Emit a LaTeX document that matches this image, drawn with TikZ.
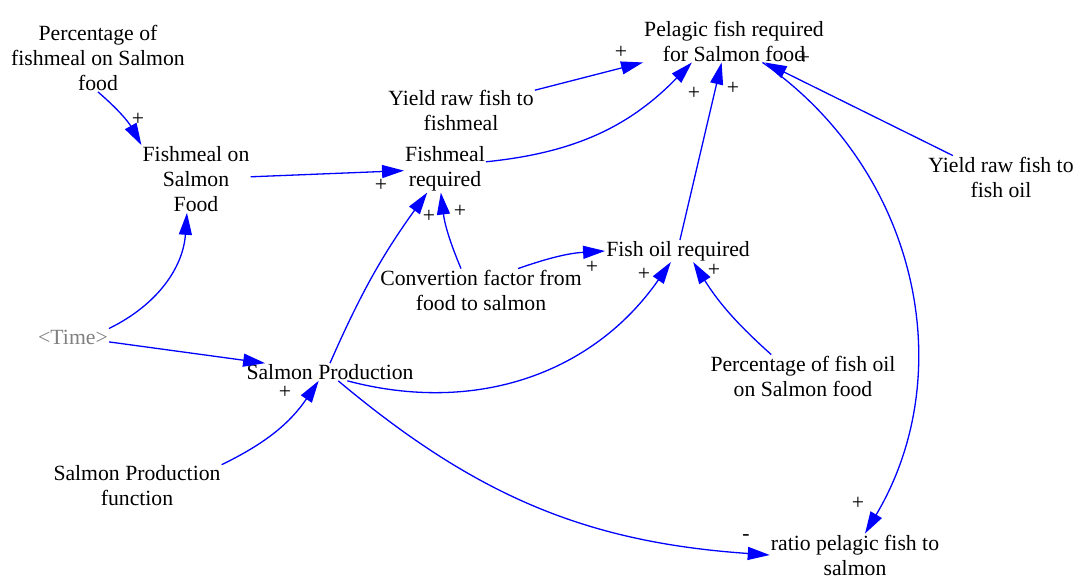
\documentclass[tikz,border=0pt]{standalone}
\usepackage{fontspec}
\setmainfont{Liberation Serif}
\usetikzlibrary{arrows.meta}

\tikzset{
  var/.style={align=center, inner sep=1pt, font=\fontsize{21.7}{25}\selectfont},
  link/.style={draw=blue, line width=1.3pt, -{Triangle[length=22pt,width=13pt]}},
  sign/.style={inner sep=0pt, font=\fontsize{21.7}{25}\selectfont},
}

\begin{document}
\begin{tikzpicture}[x=1pt,y=1pt]
  \useasboundingbox (0,0) rectangle (1078,-577);
  % variables
  \node[var] (pfm) at (98,-58) {Percentage of\\fishmeal on Salmon\\food};
  \node[var] (fmsf) at (196,-179) {Fishmeal on\\Salmon\\Food};
  \node[var] (yfm) at (461,-110) {Yield raw fish to\\fishmeal};
  \node[var] (fmr) at (445,-169) {Fishmeal\\required};
  \node[var] (pfr) at (734,-41) {Pelagic fish required\\for Salmon food};
  \node[var] (yfo) at (1001,-177) {Yield raw fish to\\fish oil};
  \node[var] (for) at (678,-251) {Fish oil required};
  \node[var] (cff) at (481,-290) {Convertion factor from\\food to salmon};
  \node[var, text=gray] (time) at (73,-337) {<Time>};
  \node[var] (sp) at (330,-372) {Salmon Production};
  \node[var] (pfo) at (803,-376) {Percentage of fish oil\\on Salmon food};
  \node[var] (spf) at (137,-486) {Salmon Production\\function};
  \node[var] (ratio) at (855,-555) {ratio pelagic fish to\\salmon};
  % links
  \draw[link] (pfm.south) to[bend left=10] (fmsf.north west);
  \draw[link] (fmsf) -- (fmr);
  \draw[link] (yfm.15) -- (pfr.south west);
  \draw[link] (fmr.10) to[bend right=20] (pfr.-153);
  \draw[link] (for.80) -- (pfr.-120);
  \draw[link] (yfo.156) -- (pfr.-35);
  \draw[link] (pfr.-37) to[bend left=43] (ratio.65);
  \draw[link] (cff.133) to[bend left=8] (fmr.-100);
  \draw[link] (sp.north) to[bend left=6] (fmr.-127);
  \draw[link] (cff.30) to[bend left=8] (for.west);
  \draw[link] (sp.-27) to[bend right=35] (for.-123);
  \draw[link] (pfo.146) to[bend left=8] (for.-36);
  \draw[link] (time.north east) to[bend right=30] (fmsf.-105);
  \draw[link] (time) -- (sp);
  \draw[link] (spf.north east) to[bend right=15] (sp.-142);
  \draw[link] (sp.-47) to[bend right=18] (ratio.west);
  % signs
  \node[sign] (s1) at (138,-119) {+};
  \node[sign] (s2) at (381,-185) {+};
  \node[sign] (s3) at (621,-52) {+};
  \node[sign] (s4) at (694,-93) {+};
  \node[sign] (s5) at (733,-88) {+};
  \node[sign] (s6) at (804,-58) {+};
  \node[sign] (s7) at (858,-503) {+};
  \node[sign] (s8) at (429,-216) {+};
  \node[sign] (s9) at (460,-211) {+};
  \node[sign] (s10) at (592,-267) {+};
  \node[sign] (s11) at (644,-274) {+};
  \node[sign] (s12) at (714,-270) {+};
  \node[sign] (s13) at (285,-392) {+};
  \node[sign] (s14) at (746,-538) {-};
\end{tikzpicture}
\end{document}
